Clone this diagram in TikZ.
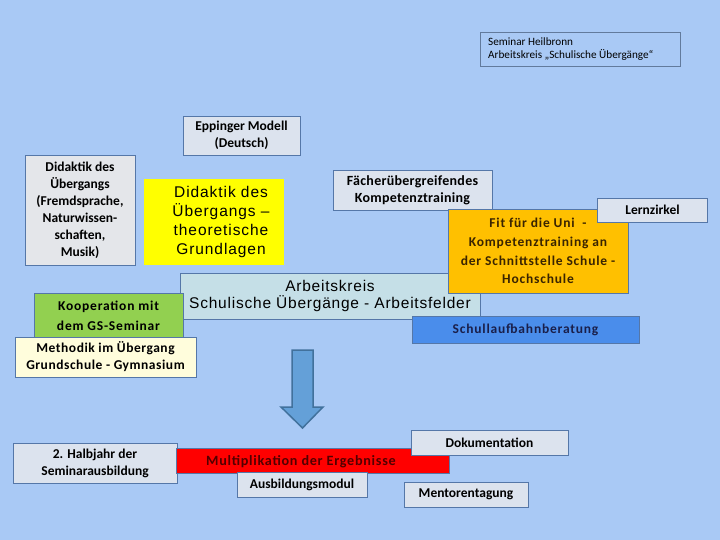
\documentclass[tikz,border=0pt]{standalone}
\usepackage{fontspec}
\setmainfont{Carlito}
\newfontfamily\arialfont{Liberation Sans}
\definecolor{bg}{HTML}{A9C9F5}
\definecolor{bord}{HTML}{5577A8}
\definecolor{boxgrey}{HTML}{DCE3EE}
\definecolor{leftgrey}{HTML}{E4E6EA}
\definecolor{yel}{HTML}{FFFF00}
\definecolor{orng}{HTML}{FFC000}
\definecolor{teal}{HTML}{C5DFE7}
\definecolor{grn}{HTML}{92D050}
\definecolor{paleyel}{HTML}{FFFDDC}
\definecolor{blu}{HTML}{4A8DEB}
\definecolor{navytext}{HTML}{1A1F4A}
\definecolor{browntext}{HTML}{3A2400}
\definecolor{maroon}{HTML}{520000}
\definecolor{arrfill}{HTML}{64A0D8}
\definecolor{arrbord}{HTML}{41719C}
\definecolor{redbox}{HTML}{FF0000}
\tikzset{
  box/.style={draw=bord, fill=boxgrey, line width=0.8pt, inner sep=0pt, align=center,
    font=\bfseries\fontsize{13.5}{17}\selectfont},
  wide/.style={font=\bfseries\fontsize{13.5}{17}\selectfont\addfontfeatures{LetterSpace=6}},
  bigtext/.style={font=\arialfont\fontsize{15.5}{19.3}\selectfont\addfontfeatures{LetterSpace=6}},
}
\begin{document}
\begin{tikzpicture}[x=1pt,y=-1pt]
\fill[bg] (0,0) rectangle (720,540);
\useasboundingbox (0,0) rectangle (720,540);

% Seminar Heilbronn
\node[box, fill=bg, draw=bord!70!gray, minimum width=200, minimum height=34] (sem) at (580,49) {};
\node[anchor=west, align=left, inner sep=0pt, font=\fontsize{11.2}{13}\selectfont] (semt) at (488,49.5)
  {Seminar Heilbronn\\Arbeitskreis „Schulische Übergänge“};

% Eppinger
\node[box, minimum width=117, minimum height=39] (epp) at (241.5,135.5) {Eppinger Modell\\(Deutsch)};

% Didaktik left
\node[box, fill=leftgrey, minimum width=110, minimum height=110] (did) at (80,210)
  {Didaktik des\\Übergangs\\(Fremdsprache,\\Naturwissen-\\schaften,\\Musik)};

% Yellow
\node[fill=yel, minimum width=140, minimum height=86, inner sep=0pt] (yel) at (214,222) {};
\node[align=center, inner sep=0pt, bigtext] (yelt) at (221,222)
  {Didaktik des\\Übergangs –\\theoretische\\Grundlagen};

% Arbeitskreis
\node[box, fill=teal, minimum width=300, minimum height=46, font=\arialfont\fontsize{15.5}{17}\selectfont\addfontfeatures{LetterSpace=5}] (ak) at (330,296)
  {Arbeitskreis\\Schulische Übergänge - Arbeitsfelder};

% Faecher
\node[box, minimum width=159, minimum height=40, font=\bfseries\fontsize{14}{17}\selectfont\addfontfeatures{LetterSpace=2}] (fae) at (412.5,190)
  {Fächerübergreifendes\\Kompetenztraining};

% Orange
\node[box, fill=orng, minimum width=180, minimum height=84, text=browntext,
  font=\bfseries\fontsize{13.5}{18.7}\selectfont\addfontfeatures{LetterSpace=6}] (fit) at (538,251)
  {Fit für die Uni\ \ -\\Kompetenztraining an\\der Schnittstelle Schule -\\Hochschule};

% Lernzirkel
\node[box, minimum width=110, minimum height=24] (lern) at (652.5,210) {Lernzirkel};

% Kooperation
\node[box, fill=grn, minimum width=149, minimum height=46, font=\bfseries\fontsize{13.5}{20}\selectfont\addfontfeatures{LetterSpace=6}] (koop) at (108.5,316)
  {Kooperation mit\\dem GS-Seminar};

% Methodik
\node[box, fill=paleyel, minimum width=181, minimum height=40, font=\bfseries\fontsize{13.5}{17}\selectfont\addfontfeatures{LetterSpace=4}] (meth) at (105.5,357)
  {Methodik im Übergang\\Grundschule - Gymnasium};

% Schullaufbahn
\node[box, fill=blu, minimum width=227, minimum height=27, text=navytext, wide] (slb) at (525.5,329.5)
  {Schullaufbahnberatung};

% Arrow
\draw[fill=arrfill, draw=arrbord, line width=1.5pt, line join=miter]
  (292,350) -- (313,350) -- (313,407) -- (323,407) -- (302.5,428) -- (281,407) -- (292,407) -- cycle;

% 2. Halbjahr
\node[box, minimum width=164, minimum height=40] (halb) at (95,463)
  {2. Halbjahr der\\Seminarausbildung};

% Red
\node[box, fill=redbox, minimum width=273, minimum height=25] (mult) at (312.5,460.5) {};
\node[text=maroon, inner sep=0pt, font=\bfseries\fontsize{14.2}{17}\selectfont\addfontfeatures{LetterSpace=5}] (multt) at (301,462) {Multiplikation der Ergebnisse};

% Ausbildungsmodul
\node[box, minimum width=130, minimum height=25] (abm) at (302,484.5) {Ausbildungsmodul};

% Dokumentation
\node[box, minimum width=157, minimum height=25] (doku) at (489.5,442.5) {Dokumentation};

% Mentorentagung
\node[box, minimum width=124, minimum height=25] (ment) at (466,494.5) {Mentorentagung};
\end{tikzpicture}
\end{document}
